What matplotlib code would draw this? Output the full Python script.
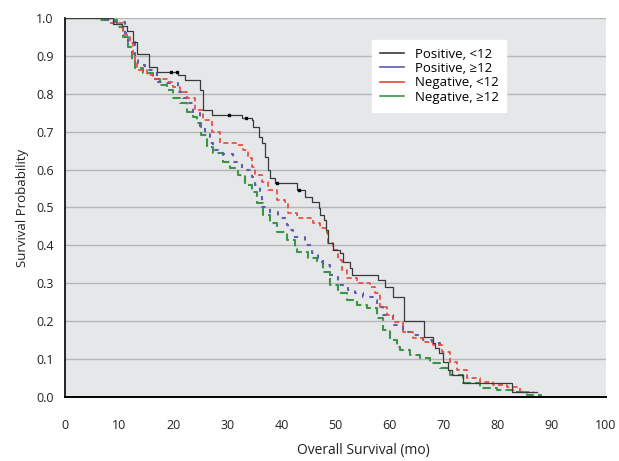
import matplotlib
matplotlib.use("Agg")
from matplotlib import pyplot as plt
from matplotlib.lines import Line2D

plt.rcParams['font.family'] = ['Open Sans', 'DejaVu Sans']

# Kaplan-Meier curves (months, survival probability)
pos_lt12_t = [0, 8.9, 10.5, 11.5, 12.6, 13.3, 15.5, 17.0, 20.9, 22.2, 25.0, 25.5, 27.2, 32.7, 34.6, 34.8,
              35.9, 36.4, 37.0, 37.5, 37.9, 38.8, 42.9, 44.4, 45.7, 46.9, 47.1, 47.9, 48.2, 48.6, 49.5,
              50.8, 51.4, 52.7, 53.0, 57.9, 59.1, 60.6, 62.7, 66.4, 68.0, 68.4, 69.1, 69.9, 70.8, 71.5,
              73.6, 82.6, 87.2]
pos_lt12_s = [1.0, 0.985, 0.98, 0.966, 0.937, 0.905, 0.87, 0.857, 0.85, 0.836, 0.81, 0.757, 0.744, 0.736,
              0.731, 0.712, 0.686, 0.67, 0.633, 0.60, 0.578, 0.565, 0.546, 0.528, 0.515, 0.499, 0.48,
              0.467, 0.44, 0.406, 0.388, 0.38, 0.356, 0.34, 0.322, 0.309, 0.29, 0.264, 0.20, 0.158,
              0.142, 0.129, 0.116, 0.092, 0.071, 0.058, 0.037, 0.013, 0.013]
pos_lt12_cens_t = [19.6, 20.7, 30.3, 33.5, 39.2, 43.3]
pos_lt12_cens_s = [0.857, 0.857, 0.744, 0.736, 0.565, 0.546]

pos_ge12_t = [0, 7.0, 8.7, 11.1, 11.6, 12.9, 13.5, 14.8, 17.0, 18.9, 20.9, 21.8, 22.7, 23.7, 25.0, 25.9,
              26.8, 27.4, 28.3, 29.2, 31.1, 32.7, 34.6, 35.1, 36.0, 36.4, 37.9, 39.4, 41.0, 41.2, 42.1,
              44.4, 45.7, 46.8, 47.7, 49.0, 50.5, 52.3, 53.6, 55.1, 56.9, 57.7, 58.8, 60.6, 62.5, 64.3,
              66.2, 67.8, 69.3]
pos_ge12_s = [1.0, 0.995, 0.99, 0.96, 0.937, 0.889, 0.876, 0.863, 0.83, 0.828, 0.805, 0.79, 0.776, 0.749,
              0.712, 0.697, 0.67, 0.652, 0.644, 0.641, 0.62, 0.599, 0.58, 0.559, 0.533, 0.501, 0.488,
              0.472, 0.454, 0.44, 0.422, 0.40, 0.38, 0.367, 0.348, 0.322, 0.296, 0.282, 0.274, 0.264,
              0.256, 0.237, 0.216, 0.19, 0.171, 0.164, 0.15, 0.142, 0.135]

neg_lt12_t = [0, 8.3, 10.7, 12.0, 12.6, 12.9, 13.3, 15.2, 16.3, 18.9, 20.0, 21.3, 22.6, 24.0, 25.5, 27.2,
              28.7, 31.8, 32.9, 33.8, 34.6, 35.1, 36.4, 37.5, 39.2, 40.7, 41.2, 42.9, 45.8, 47.1, 48.4,
              48.6, 49.5, 50.5, 51.2, 52.1, 54.0, 56.4, 57.3, 58.2, 59.5, 60.6, 62.5, 64.3, 66.2, 68.0,
              69.7, 71.2, 72.5, 74.3, 76.7, 79.1, 81.7, 84.1, 86.5]
neg_lt12_s = [1.0, 0.987, 0.955, 0.934, 0.897, 0.88, 0.863, 0.85, 0.84, 0.83, 0.818, 0.805, 0.79, 0.757,
              0.73, 0.70, 0.67, 0.665, 0.652, 0.63, 0.607, 0.586, 0.567, 0.546, 0.52, 0.515, 0.486,
              0.472, 0.459, 0.446, 0.433, 0.406, 0.388, 0.361, 0.335, 0.314, 0.30, 0.29, 0.274, 0.237,
              0.216, 0.198, 0.171, 0.156, 0.145, 0.137, 0.119, 0.092, 0.071, 0.05, 0.04, 0.032, 0.026,
              0.013, 0.01]

neg_ge12_t = [0, 6.5, 9.6, 10.7, 11.6, 12.4, 12.9, 14.4, 16.3, 17.6, 18.9, 20.0, 21.3, 22.6, 23.7, 24.4,
              25.1, 26.2, 27.4, 29.2, 30.5, 32.0, 33.3, 34.6, 35.5, 36.6, 37.9, 39.2, 41.0, 42.5, 42.9,
              44.9, 46.6, 47.7, 49.0, 50.5, 52.1, 54.0, 55.8, 57.7, 58.8, 60.1, 61.4, 61.9, 63.8, 65.6,
              67.5, 69.3, 71.2, 73.6, 76.7, 79.9, 82.8, 85.4, 88.0]
neg_ge12_s = [1.0, 0.995, 0.976, 0.95, 0.923, 0.889, 0.868, 0.855, 0.84, 0.823, 0.81, 0.79, 0.776, 0.752,
              0.739, 0.723, 0.69, 0.66, 0.644, 0.62, 0.604, 0.586, 0.56, 0.541, 0.512, 0.48, 0.459,
              0.435, 0.414, 0.393, 0.383, 0.367, 0.356, 0.33, 0.296, 0.274, 0.256, 0.243, 0.235, 0.208,
              0.177, 0.15, 0.132, 0.124, 0.111, 0.103, 0.09, 0.077, 0.058, 0.037, 0.024, 0.018, 0.013,
              0.005, 0.0]

labels = ['Positive, <12', 'Positive, \u226512', 'Negative, <12', 'Negative, \u226512']
colors = ['#3a3a3a', '#5b5fb0', '#e8453c', '#3a9548']

fig = plt.figure(figsize=(6.19, 4.61), dpi=100)
ax = fig.add_axes([0.105, 0.139, 0.874, 0.822])
ax.set_facecolor('#e6e7e8')

ax.step(neg_ge12_t, neg_ge12_s, where='post', color=colors[3], lw=1.5, dashes=(4, 2))
ax.step(pos_ge12_t, pos_ge12_s, where='post', color=colors[1], lw=1.5, dashes=(2, 3))
ax.step(neg_lt12_t, neg_lt12_s, where='post', color=colors[2], lw=1.2, dashes=(3, 2))
ax.step(pos_lt12_t, pos_lt12_s, where='post', color=colors[0], lw=0.9)
ax.plot(pos_lt12_cens_t, pos_lt12_cens_s, ls='none', marker='s', ms=2, color='black')

ax.set_xlim(0, 100)
ax.set_ylim(0, 1.0)
ax.set_xticks(range(0, 101, 10))
ax.set_yticks([i / 10 for i in range(11)])
ax.set_yticklabels([f'{i / 10:.1f}' for i in range(11)])
ax.yaxis.grid(True, color='#b5b6b8', lw=1.0)
ax.set_axisbelow(True)
ax.tick_params(axis='both', length=0, labelsize=9, colors='#222222')
ax.tick_params(axis='x', pad=16)
ax.tick_params(axis='y', pad=8)
for s in ['top', 'right']:
    ax.spines[s].set_visible(False)
ax.spines['left'].set_linewidth(1.2)
ax.spines['bottom'].set_linewidth(1.4)

ax.set_xlabel('Overall Survival (mo)', fontsize=10, color='#222222')
ax.xaxis.set_label_coords(0.552, -0.122)
ax.set_ylabel('Survival Probability', fontsize=9.5, labelpad=5, color='#222222')

handles = [Line2D([], [], color=c, lw=1.2) for c in colors]
leg = ax.legend(handles, labels, loc='upper left', bbox_to_anchor=(0.556, 0.96), fontsize=9.5,
                frameon=True, fancybox=False, framealpha=1, edgecolor='white',
                handlelength=1.8, handletextpad=0.8, labelspacing=0.1, borderpad=0.6)

fig.savefig('out.png', dpi=100)
